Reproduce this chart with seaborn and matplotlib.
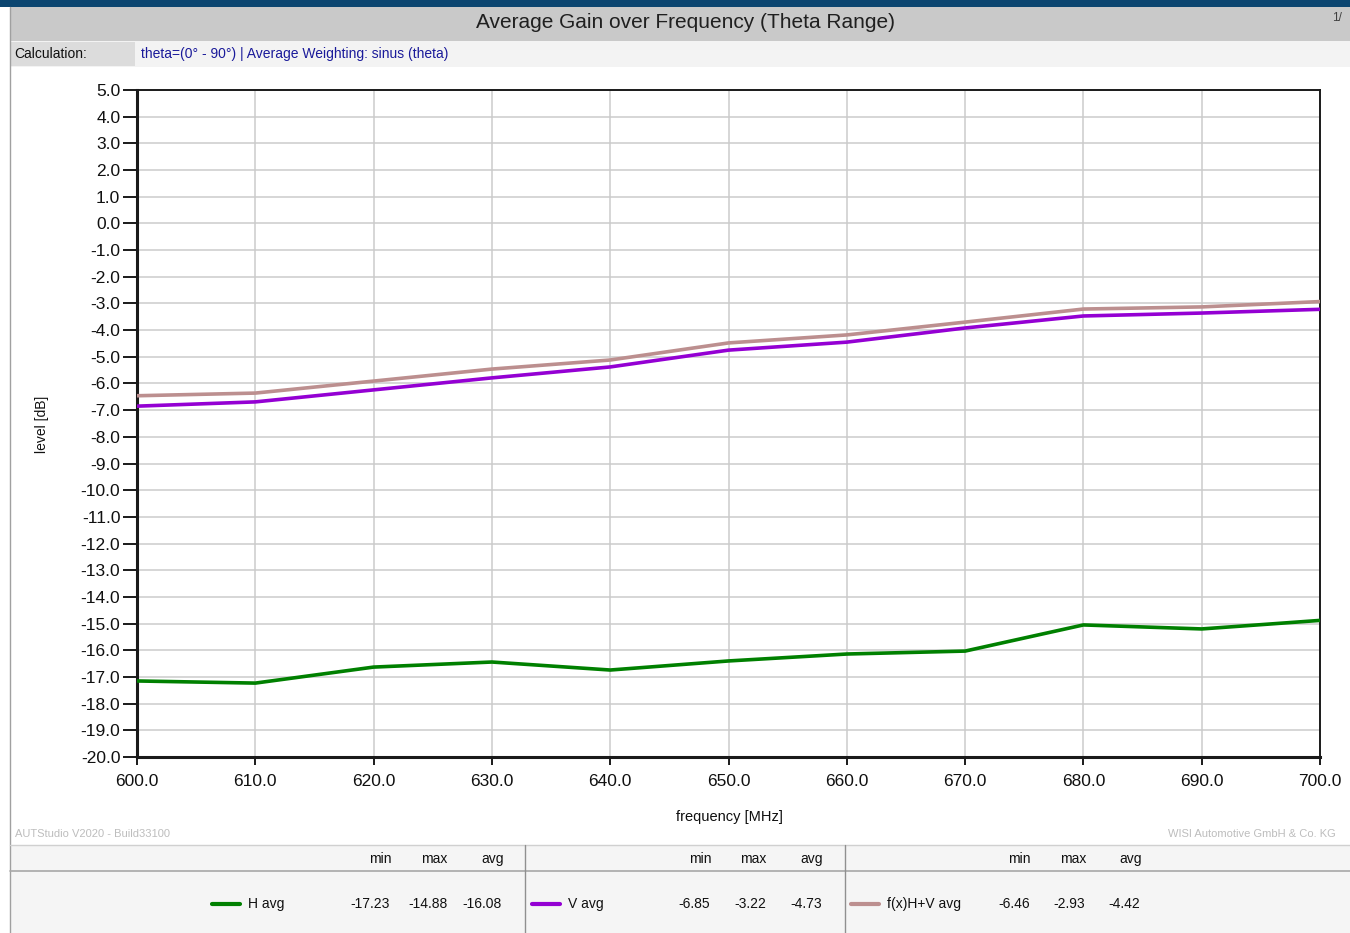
import matplotlib
matplotlib.use('Agg')
import matplotlib.pyplot as plt
import pandas as pd
import seaborn as sns
from matplotlib.patches import Rectangle
from matplotlib.lines import Line2D

freq = [600, 610, 620, 630, 640, 650, 660, 670, 680, 690, 700]
h_avg = [-17.15, -17.23, -16.63, -16.44, -16.74, -16.40, -16.14, -16.03, -15.05, -15.20, -14.88]
v_avg = [-6.85, -6.69, -6.24, -5.79, -5.38, -4.75, -4.45, -3.92, -3.47, -3.36, -3.22]
hv_avg = [-6.46, -6.36, -5.91, -5.46, -5.12, -4.48, -4.18, -3.70, -3.21, -3.13, -2.93]

series_names = ['H avg', 'V avg', 'f(x)H+V avg']
series_colors = ['#008000', '#9400d3', '#bc8f8f']
stats_min = ['-17.23', '-6.85', '-6.46']
stats_max = ['-14.88', '-3.22', '-2.93']
stats_avg = ['-16.08', '-4.73', '-4.42']

yticks = [5.0, 4.0, 3.0, 2.0, 1.0, 0.0, -1.0, -2.0, -3.0, -4.0, -5.0, -6.0, -7.0, -8.0, -9.0,
          -10.0, -11.0, -12.0, -13.0, -14.0, -15.0, -16.0, -17.0, -18.0, -19.0, -20.0]
xticks = [600, 610, 620, 630, 640, 650, 660, 670, 680, 690, 700]

df = pd.DataFrame({
    'frequency': freq * 3,
    'level': h_avg + v_avg + hv_avg,
    'series': [series_names[0]] * 11 + [series_names[1]] * 11 + [series_names[2]] * 11,
})

sns.set_style('whitegrid')
plt.rcParams['font.family'] = ['Liberation Sans', 'DejaVu Sans']

W, H = 1350, 933
fig = plt.figure(figsize=(13.5, 9.33), dpi=100)


def fx(x):
    return x / W


def fy(y):
    return 1 - y / H


def box(x0, y0, x1, y1, color, z=0):
    fig.patches.append(Rectangle((fx(x0), fy(y1)), fx(x1 - x0), (y1 - y0) / H,
                                 transform=fig.transFigure, facecolor=color,
                                 edgecolor='none', zorder=z))


def hline(x0, x1, y, color, lw=1.0):
    fig.lines.append(Line2D([fx(x0), fx(x1)], [fy(y), fy(y)], transform=fig.transFigure,
                            color=color, lw=lw))


def vline(x, y0, y1, color, lw=1.0):
    fig.lines.append(Line2D([fx(x), fx(x)], [fy(y0), fy(y1)], transform=fig.transFigure,
                            color=color, lw=lw))


# header bars
box(0, 0, W, 7, '#0b4570')
box(10, 7, W, 41, '#c9c9c9')
box(10, 41, W, 67, '#f3f3f3')
box(10, 42, 135, 66, '#dcdcdc')
vline(10, 7, H, '#a0a0a0', 1.0)
fig.text(fx(685), fy(23), 'Average Gain over Frequency (Theta Range)', ha='center', va='center',
         fontsize=15, color='#202020')
fig.text(fx(1332), fy(18), '1/', ha='left', va='center', fontsize=8.5, color='#404040')
fig.text(fx(14), fy(54), 'Calculation:', ha='left', va='center', fontsize=10, color='#101010')
fig.text(fx(141), fy(54), 'theta=(0\u00b0 - 90\u00b0) | Average Weighting: sinus (theta)', ha='left',
         va='center', fontsize=10, color='#1a1a9a')

# plot
ax = fig.add_axes([fx(137), fy(757), fx(1320 - 137), (757 - 90) / H])
sns.lineplot(data=df, x='frequency', y='level', hue='series', palette=series_colors,
             linewidth=2.6, ax=ax, legend=False, zorder=3)
ax.set_xlim(600, 700)
ax.set_ylim(-20, 5)
ax.set_xticks(xticks)
ax.set_xticklabels(['%.1f' % v for v in xticks])
ax.set_yticks(yticks)
ax.set_yticklabels(['%.1f' % v for v in yticks])
ax.grid(True, color='#cbcbcb', lw=1.1)
ax.tick_params(axis='both', direction='out', width=1.4, color='#1a1a1a', labelsize=12.5,
               labelcolor='#101010', left=True, bottom=True)
ax.tick_params(axis='y', length=10, pad=2)
ax.tick_params(axis='x', length=6, pad=6)
for side in ['left', 'bottom']:
    ax.spines[side].set_color('#1a1a1a')
    ax.spines[side].set_linewidth(2.2)
for side in ['right', 'top']:
    ax.spines[side].set_color('#1a1a1a')
    ax.spines[side].set_linewidth(1.4)
ax.set_xlabel('')
ax.set_ylabel('')
fig.text(fx(42), fy(424), 'level [dB]', rotation=90, ha='center', va='center', fontsize=10,
         color='#101010')
fig.text(fx(729), fy(817), 'frequency [MHz]', ha='center', va='center', fontsize=10.5,
         color='#101010')

# footer
fig.text(fx(15), fy(834), 'AUTStudio V2020 - Build33100', ha='left', va='center', fontsize=8,
         color='#bdbdbd')
fig.text(fx(1168), fy(834), 'WISI Automotive GmbH & Co. KG', ha='left', va='center', fontsize=8,
         color='#bdbdbd')

# statistics table
box(10, 845, W, H, '#f5f5f5')
hline(10, W, 845, '#d0d0d0', 1.0)
hline(10, W, 871, '#a8a8a8', 1.2)
vline(525, 845, H, '#909090', 1.0)
vline(845, 845, H, '#909090', 1.0)

col_x = [(380, 434, 493), (700, 753, 812), (1019, 1073, 1131)]
val_x = [(370, 428, 482), (694, 750, 806), (1014, 1069, 1124)]
line_x = [212, 532, 851]
for i in range(3):
    for hdr, x in zip(['min', 'max', 'avg'], col_x[i]):
        fig.text(fx(x), fy(859), hdr, ha='center', va='center', fontsize=10, color='#101010')
    x0 = line_x[i]
    hline(x0, x0 + 28, 904, series_colors[i], 3.0)
    fig.text(fx(x0 + 36), fy(904), series_names[i], ha='left', va='center', fontsize=10,
             color='#101010')
    for v, x in zip([stats_min[i], stats_max[i], stats_avg[i]], val_x[i]):
        fig.text(fx(x), fy(904), v, ha='center', va='center', fontsize=10, color='#101010')

fig.savefig('out.png', dpi=100)
